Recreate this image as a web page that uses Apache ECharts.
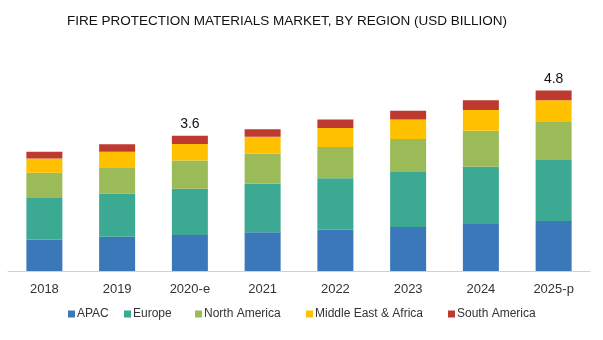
<!DOCTYPE html>
<html>
<head>
<meta charset="utf-8">
<script src="https://cdn.jsdelivr.net/npm/echarts@6/dist/echarts.min.js"></script>
<style>
  html, body { margin: 0; padding: 0; background: #fff; }
  #chart { width: 603px; height: 340px; }
</style>
</head>
<body>
<div id="chart"></div>
<script>
// Fire protection materials market by region, USD billion
const years = ['2018', '2019', '2020-e', '2021', '2022', '2023', '2024', '2025-p'];
const apac         = [0.84, 0.91, 0.96, 1.03, 1.10, 1.17, 1.25, 1.33];
const europe       = [1.10, 1.15, 1.23, 1.29, 1.37, 1.46, 1.52, 1.62];
const northAmerica = [0.67, 0.70, 0.75, 0.80, 0.83, 0.88, 0.96, 1.01];
const middleEastAf = [0.38, 0.41, 0.44, 0.45, 0.50, 0.52, 0.55, 0.58];
const southAmerica = [0.18, 0.20, 0.22, 0.20, 0.23, 0.23, 0.26, 0.26];
// bars whose total is printed above the stack
const labelledYears = ['2020-e', '2025-p'];

const regions = [
  { name: 'APAC', data: apac, color: '#3a78b9' },
  { name: 'Europe', data: europe, color: '#3caa93' },
  { name: 'North America', data: northAmerica, color: '#9bbb59' },
  { name: 'Middle East & Africa', data: middleEastAf, color: '#ffc000' },
  { name: 'South America', data: southAmerica, color: '#be3a30' }
];

// x position of each legend entry (tab-stop style spacing)
const legendLeft = [63, 119, 190, 301, 443];

const totals = years.map((_, i) => regions.reduce((s, r) => s + r.data[i], 0));

const series = regions.map((r, idx) => {
  const isTop = idx === regions.length - 1;
  return {
    name: r.name,
    type: 'bar',
    stack: 'total',
    barWidth: 36,
    itemStyle: { color: r.color },
    emphasis: { disabled: true },
    data: r.data.map((v, i) => {
      const item = { value: v };
      if (isTop && labelledYears.includes(years[i])) {
        item.label = {
          show: true,
          position: 'top',
          distance: 4,
          formatter: () => totals[i].toFixed(1),
          color: '#111',
          fontSize: 14,
          fontFamily: 'Liberation Sans, Arial, sans-serif'
        };
      }
      return item;
    })
  };
});

const legends = regions.map((r, i) => ({
  bottom: 15,
  left: legendLeft[i],
  itemWidth: 7,
  itemHeight: 7,
  icon: 'rect',
  selectedMode: false,
  textStyle: {
    fontSize: 12,
    color: '#333',
    padding: [0, 0, 0, -3],
    fontFamily: 'Liberation Sans, Arial, sans-serif'
  },
  data: [r.name]
}));

const chart = echarts.init(document.getElementById('chart'));
chart.setOption({
  animation: false,
  title: {
    text: 'FIRE PROTECTION MATERIALS MARKET, BY REGION (USD BILLION)',
    left: 62,
    top: 9,
    textStyle: {
      fontSize: 13.5,
      fontWeight: 'normal',
      color: '#111',
      fontFamily: 'Liberation Sans, Arial, sans-serif'
    }
  },
  legend: legends,
  grid: { left: 8, right: 13, top: 83, bottom: 69, containLabel: false },
  xAxis: {
    type: 'category',
    data: years,
    axisLine: { lineStyle: { color: '#d0d0d0', width: 1 } },
    axisTick: { show: false },
    axisLabel: {
      color: '#333',
      fontSize: 13,
      margin: 12,
      fontFamily: 'Liberation Sans, Arial, sans-serif'
    }
  },
  yAxis: {
    type: 'value',
    min: 0,
    max: 5,
    show: false,
    splitLine: { show: false }
  },
  series: series
});
</script>
</body>
</html>
